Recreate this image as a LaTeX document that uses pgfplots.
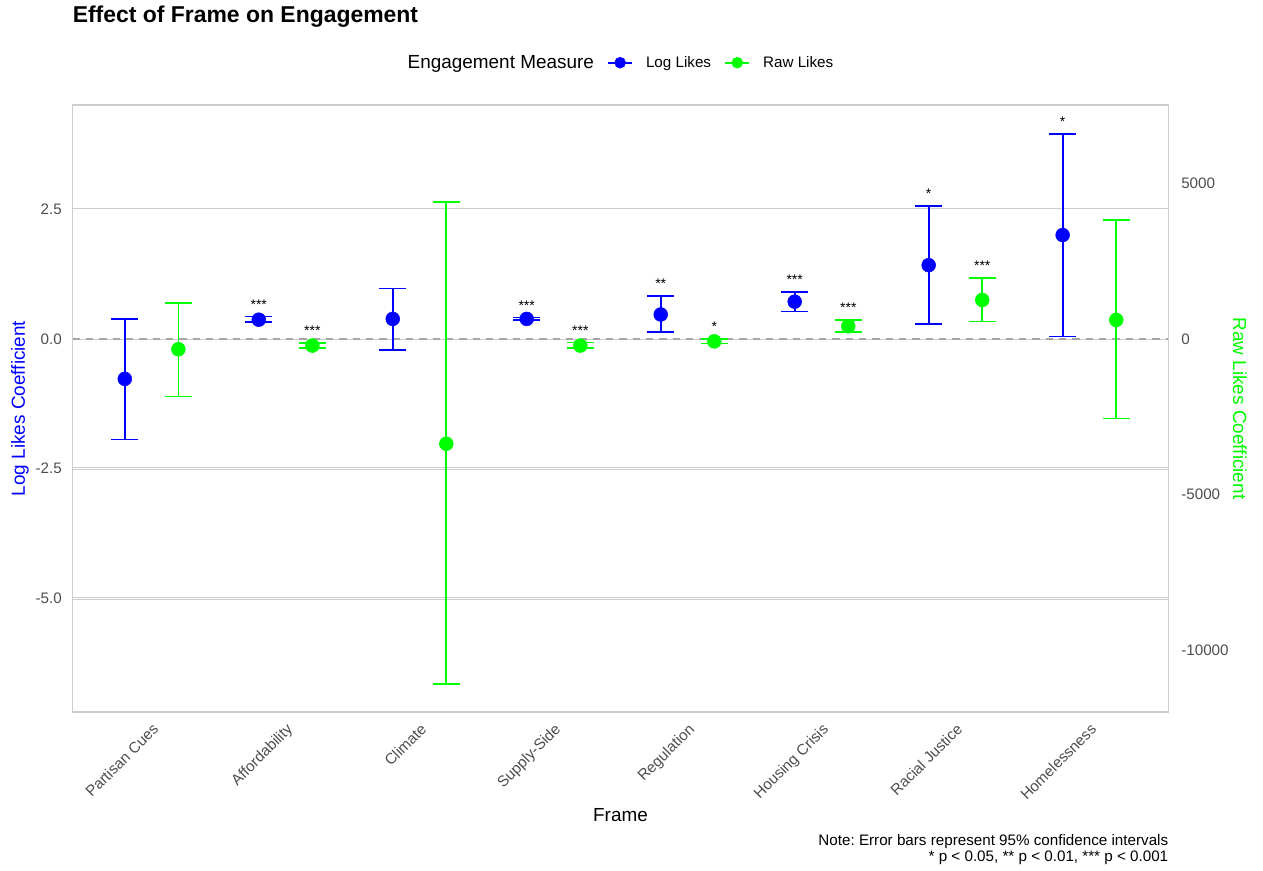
\documentclass[border=0pt]{standalone}
\usepackage{pgfplots}
\pgfplotsset{compat=1.18}
\usepackage{pgfplotstable}
\usepackage{fontspec}
\setmainfont{Liberation Sans}
\frenchspacing

\definecolor{logblue}{HTML}{0000FF}
\definecolor{rawgreen}{HTML}{00FF00}
\definecolor{ticktext}{HTML}{4D4D4D}
\definecolor{gridcol}{HTML}{CCCCCC}
\definecolor{bordercol}{HTML}{CCCCCC}
\definecolor{zerocol}{HTML}{A6A6A6}

% Log-likes coefficients with 95% CIs: frame index, estimate, lower, upper, significance
\pgfplotstableread{
i  est    lo     hi    sig
1  -0.77  -1.94  0.39  {}
2  0.37   0.32   0.43  ***
3  0.385  -0.21  0.97  {}
4  0.385  0.36   0.41  ***
5  0.47   0.127  0.82  **
6  0.717  0.53   0.90  ***
7  1.42   0.29   2.56  *
8  2.00   0.044  3.95  *
}\loglikes

% Raw-likes coefficients with 95% CIs
\pgfplotstableread{
i  est    lo      hi    sig
1  -334   -1852   1165  {}
2  -215   -289    -128  ***
3  -3370  -11104  4397  {}
4  -215   -289    -119  ***
5  -80    -150    -10   *
6  405    212     597   ***
7  1252   555     1967  ***
8  610    -2558   3819  {}
}\rawlikes

\newcommand{\tickfont}{\fontsize{11.4}{13}\selectfont}
\newcommand{\titlefont}{\fontsize{14.2}{17}\selectfont}

\pgfplotsset{
  frame/.style={
    at={(0,0)}, anchor=south west,
    width=822pt, height=455.25pt, scale only axis,
    xmin=0.41, xmax=8.59,
    major tick length=0pt,
    tick style={draw=none},
  },
  estimate/.style={
    forget plot, only marks, mark=*, mark size=5.2pt, color=#1,
    mark options={draw=#1, fill=#1},
    error bars/.cd, y dir=both, y explicit, error mark=|,
    error bar style={line width=1.3pt, color=#1},
    error mark options={line width=1.3pt, mark size=10pt, color=#1},
  },
  stars/.style={
    forget plot, draw=none, mark=none, nodes near coords,
    point meta=explicit symbolic,
    nodes near coords style={anchor=base, yshift=5.6pt, inner sep=0pt,
      font=\fontsize{10.5}{12}\selectfont, text=black},
  },
}

\begin{document}
\begin{tikzpicture}
\useasboundingbox (-54.4pt,-119.25pt) rectangle (892.9pt,534pt);

% Log likes on the left scale
\begin{axis}[
  frame, name=A,
  ymin=-7.187, ymax=4.506,
  xtick={1,...,8},
  xticklabels={Partisan Cues,Affordability,Climate,Supply-Side,Regulation,Housing Crisis,Racial Justice,Homelessness},
  ytick={-5,-2.5,0,2.5},
  yticklabels={-5.0,-2.5,0.0,2.5},
  axis line style={draw=bordercol, line width=1pt},
  ymajorgrids,
  major grid style={draw=gridcol, line width=0.55pt, double=white, double distance=0.7pt},
  xticklabel style={yshift=-7.7pt, rotate=45, anchor=north east, inner sep=0pt, font=\tickfont, text=ticktext},
  yticklabel style={anchor=east, inner sep=0pt, xshift=-7.9pt, font=\tickfont, text=ticktext},
  legend style={at={(0.5,1)}, anchor=center, yshift=31.7pt, xshift=-4.9pt, draw=none, fill=none,
    legend columns=-1, font=\tickfont, inner sep=0pt,
    nodes={inner sep=0pt},
    /tikz/every odd column/.append style={column sep=9.75pt},
    /tikz/every even column/.append style={column sep=10pt}},
  legend image code/.code={
    \draw[#1, line width=1.3pt] (0pt,0pt) -- (18pt,0pt);
    \fill[#1] (9pt,0pt) circle (4.1pt);
  },
]
\addlegendimage{empty legend}
\addlegendentry{\titlefont Engagement Measure}
\addlegendimage{color=logblue}
\addlegendentry{Log Likes}
\addlegendimage{color=rawgreen}
\addlegendentry{Raw Likes}

\addplot[forget plot, draw=zerocol, line width=1.1pt, dash pattern=on 5.5pt off 4.5pt]
  coordinates {(0.41,0) (8.59,0)};

\addplot[estimate=logblue]
  table[x expr=\thisrow{i}-0.2, y=est,
        y error plus expr=\thisrow{hi}-\thisrow{est},
        y error minus expr=\thisrow{est}-\thisrow{lo}] {\loglikes};
\addplot[stars] table[x expr=\thisrow{i}-0.2, y=hi, meta=sig] {\loglikes};
\end{axis}

% Raw likes on the right scale
\begin{axis}[
  frame,
  ymin=-11993, ymax=7519,
  axis x line=none,
  axis y line*=right,
  y axis line style={draw=none},
  ytick={-10000,-5000,0,5000},
  yticklabels={-10000,-5000,0,5000},
  scaled y ticks=false,
  yticklabel style={anchor=west, inner sep=0pt, xshift=9.4pt, font=\tickfont, text=ticktext},
]
\addplot[estimate=rawgreen]
  table[x expr=\thisrow{i}+0.2, y=est,
        y error plus expr=\thisrow{hi}-\thisrow{est},
        y error minus expr=\thisrow{est}-\thisrow{lo}] {\rawlikes};
\addplot[stars] table[x expr=\thisrow{i}+0.2, y=hi, meta=sig] {\rawlikes};
\end{axis}

\node[anchor=base west, inner sep=0pt, font=\bfseries\fontsize{17.2}{20}\selectfont]
  at ([yshift=61.7pt]A.north west) {Effect of Frame on Engagement};
\node[anchor=base, inner sep=0pt, font=\titlefont] at ([yshift=-82.3pt]A.south) {Frame};
\node[rotate=90, anchor=center, inner sep=0pt, font=\titlefont, text=logblue]
  at ([xshift=-39.4pt]A.west) {Log Likes Coefficient};
\node[rotate=-90, anchor=center, inner sep=0pt, font=\titlefont, text=rawgreen]
  at ([xshift=53.6pt]A.east) {Raw Likes Coefficient};
\node[anchor=base east, inner sep=0pt, font=\tickfont]
  at ([yshift=-100.5pt]A.south east) {Note: Error bars represent 95\% confidence intervals};
\node[anchor=base east, inner sep=0pt, font=\tickfont]
  at ([yshift=-112.1pt]A.south east) {* p < 0.05, ** p < 0.01, *** p < 0.001};
\end{tikzpicture}
\end{document}
